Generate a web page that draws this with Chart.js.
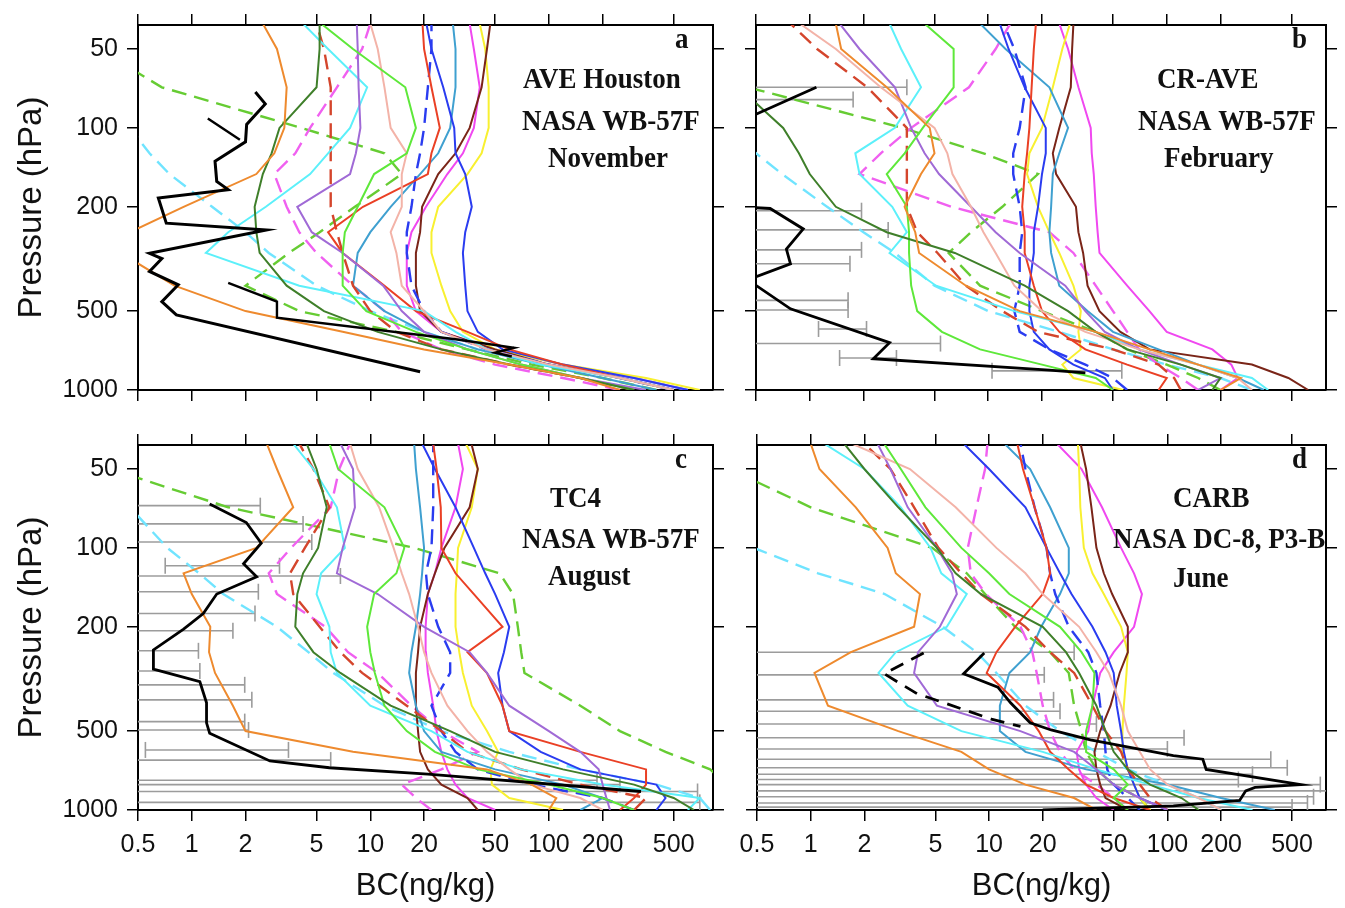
<!DOCTYPE html>
<html>
<head>
<meta charset="utf-8">
<script src="https://cdn.jsdelivr.net/npm/chart.js@4.4.1/dist/chart.umd.min.js"></script>
<style>
  html, body { margin: 0; padding: 0; background: #fff; }
  #fig { position: relative; width: 1345px; height: 908px; overflow: hidden; background: #fff; }
  #fig canvas { position: absolute; }
</style>
</head>
<body>
<div id="fig">
  <canvas id="pa" width="735" height="418" style="left:0;top:0"></canvas>
  <canvas id="pb" width="610" height="418" style="left:735px;top:0"></canvas>
  <canvas id="pc" width="735" height="490" style="left:0;top:418px"></canvas>
  <canvas id="pd" width="610" height="490" style="left:735px;top:418px"></canvas>
</div>
<script>
'use strict';

// pressure levels (hPa) shared by every model profile
const LEVELS  = [1000, 900, 800, 700, 600, 500, 400, 300, 250, 200, 150, 125, 100, 70, 50, 40];
const X_TICKS = [0.5, 1, 2, 5, 10, 20, 50, 100, 200, 500];
const Y_TICKS = [50, 100, 200, 500, 1000];

// model order: orange, dk green, lt green, pink, purple, cyan, red, red--, blue, blue--,
//              steel blue, brown, yellow, magenta, magenta--, green--, cyan--
const MODEL_COLORS = ['#ee8a2e', '#3f7f2a', '#5ee83a', '#f3b3a8', '#a06ad6', '#5cf0fa', '#ea4025', '#d4452c',
                      '#2a3cf0', '#2a3cf0', '#3fa0d0', '#7a2518', '#f8f030', '#f048f0', '#f060f0', '#66cc33', '#70e4ff'];
const MODEL_DASHED = [false, false, false, false, false, false, false, true,
                      false, true, false, false, false, false, true, true, true];

// BC (ng/kg) at LEVELS, one row per model
const BC_A = [
  [250, 150, 60, 20, 7, 2.0, 0.8, 0.4, 0.45, 0.9, 2.3, 2.9, 3.3, 3.4, 3.0, 2.5],
  [300, 150, 60, 25, 11, 5.5, 3.4, 2.4, 2.3, 2.25, 2.5, 2.8, 3.1, 5.0, 5.2, 5.2],
  [300, 150, 70, 35, 18, 9.5, 7, 7, 7.2, 8.5, 10.5, 16, 18, 15.7, 8, 5.3],
  [500, 250, 100, 45, 25, 20, 15, 14, 13, 15, 15, 16, 13, 12, 11, 10],
  [350, 150, 70, 35, 20, 15, 11.8, 7, 4.7, 3.9, 7.7, 8.3, 8.8, 8.6, 8.5, 8.4],
  [500, 250, 90, 45, 30, 20, 4, 1.2, 1.6, 2.6, 4.6, 5.8, 7.7, 9.6, 5.8, 4.2],
  [500, 250, 120, 60, 35, 18, 12, 7, 5.8, 9.1, 21, 22, 24.5, 22, 20, 19.6],
  [300, 150, 60, 25, 14, 10, 8, 7, 6.5, 6, 6, 6, 6, 6, 5.5, 5],
  [600, 300, 120, 55, 40, 35, 34, 33, 34, 37, 34, 30, 29.5, 25.6, 22, 20.6],
  [500, 250, 100, 45, 25, 20, 17, 16, 16, 17, 18, 19, 20, 21, 22, 22],
  [400, 200, 90, 40, 20, 12, 8, 8.5, 10, 13, 19, 24, 28, 30, 30, 29],
  [500, 250, 100, 50, 25, 19, 18, 18, 19, 19.5, 24, 30, 36, 42, 45, 47],
  [700, 350, 120, 50, 33, 28, 25, 22, 22, 24, 35, 42, 46, 46, 44, 41],
  [600, 300, 120, 50, 25, 18, 16, 16, 17, 20.5, 27, 33, 38, 41, 38, 36],
  [250, 120, 50, 25, 15, 12, 8, 5, 4, 3.4, 2.9, 3.8, 4.6, 6.5, 9, 10],
  [400, 200, 80, 35, 14, 4, 2, 3.5, 5.2, 8.2, 15, 12, 4.1, 0.68, 0.3, 0.25],
  [600, 300, 100, 40, 20, 10, 5, 2.7, 2.0, 1.3, 0.75, 0.58, 0.45, 0.3, 0.2, 0.15],
];
const BC_B = [
  [200, 260, 150, 80, 40, 15, 7.5, 4.1, 3.9, 3.4, 4.2, 5, 4.7, 2.7, 1.5, 1.4],
  [180, 200, 120, 60, 40, 28, 16, 6.5, 2.7, 1.4, 1.0, 0.87, 0.71, 0.4, 0.3, 0.25],
  [50, 40, 20, 9, 5.5, 4, 3.7, 3.6, 3.6, 3.5, 2.7, 3.4, 4.3, 6.4, 6.4, 4.4],
  [300, 250, 150, 70, 35, 20, 14, 11, 9.4, 8, 6.3, 5.9, 5, 2.5, 1.4, 0.88],
  [150, 200, 120, 70, 45, 35, 27, 15, 11, 8, 5.3, 4.4, 3.7, 3.0, 1.9, 1.47],
  [370, 300, 150, 70, 40, 14, 5.1, 2.8, 3.5, 2.9, 1.9, 1.8, 3.0, 4.2, 3.25, 2.8],
  [90, 100, 60, 35, 25, 20, 18, 16, 16, 15.5, 16, 16.5, 17, 17.5, 18, 18.5],
  [120, 110, 90, 50, 19, 12, 7.5, 5.2, 4, 3.5, 3.5, 3.5, 3.5, 2.1, 1.1, 0.78],
  [50, 45, 30, 22, 18, 17, 17, 18, 18, 19, 20, 21, 21, 16, 13, 11.6],
  [60, 50, 35, 22, 15, 14, 15, 15, 15.5, 15, 13.8, 13.8, 15, 16.2, 14, 12.2],
  [350, 250, 150, 90, 50, 36, 25, 22.5, 22, 22.5, 23, 25, 28, 22, 12.5, 9],
  [620, 480, 300, 80, 55, 42, 36, 34, 32, 31, 24, 23, 25, 29, 29.5, 30],
  [57, 30, 26, 33, 32, 33, 30, 25, 22, 19, 16.5, 17, 20, 23, 26, 28.7],
  [200, 250, 230, 180, 100, 80, 60, 42, 41, 40, 39, 38, 37.5, 32, 28, 25],
  [150, 120, 90, 70, 60, 50, 40, 30, 22, 6.2, 1.9, 2.5, 3.7, 7.8, 11, 13.3],
  [200, 150, 100, 60, 40, 20, 9, 6, 8, 12, 19, 9.4, 3.3, 0.45, 0.3, 0.25],
  [300, 200, 100, 50, 25, 10, 5, 3, 2, 1.25, 0.7, 0.5, 0.38, 0.28, 0.2, 0.18],
];
const BC_C = [
  [100, 110, 80, 45, 8, 2.0, 1.7, 1.35, 1.25, 1.27, 1.0, 0.9, 2.3, 3.7, 3.0, 2.63],
  [650, 500, 300, 120, 50, 28, 13, 6.8, 4.8, 3.8, 3.9, 4.2, 5.1, 5.7, 5.0, 4.4],
  [300, 200, 100, 40, 23, 16, 12, 10.6, 10, 9.6, 10.5, 14, 15.5, 12, 6.6, 5.9],
  [200, 150, 80, 60, 45, 35, 27, 22, 20, 18.5, 16.5, 15, 13.5, 11.2, 8.5, 7.7],
  [220, 210, 200, 190, 150, 100, 60, 45, 36, 20, 11, 6.5, 7, 8.2, 8.0, 6.8],
  [600, 700, 200, 70, 35, 22, 10, 6.5, 6, 5.9, 5.0, 5.3, 7.2, 6.5, 4.8, 3.7],
  [250, 300, 350, 350, 150, 60, 55, 45, 35, 55, 38, 30, 25, 24.8, 23.5, 22.5],
  [300, 350, 150, 70, 35, 25, 16, 9, 6.8, 5.2, 3.7, 3.55, 4.3, 5.9, 4.8, 4.0],
  [400, 450, 400, 150, 90, 60, 55, 52, 56, 60, 50, 44, 38, 30, 23, 19.5],
  [300, 200, 80, 40, 30, 25, 22, 28, 28, 24, 21, 20.5, 22, 22.5, 22.5, 22.5],
  [150, 200, 120, 50, 25, 20, 18, 16.5, 17, 18, 19, 19.5, 20, 19, 18, 17.6],
  [40, 35, 25, 21, 19, 18.5, 18, 18, 18.5, 19, 21, 23, 26, 36, 40, 36.8],
  [120, 60, 48, 47, 52, 45, 37, 33, 31.5, 30, 30, 30.5, 31, 37, 40, 34.3],
  [50, 35, 30, 27, 25, 23.5, 22.5, 21, 20.5, 20.4, 21, 23, 25, 30, 33, 31],
  [22, 18, 15, 25, 40, 25, 17, 11, 7.5, 5.6, 3, 2.7, 3.6, 6.0, 6.7, 7.7],
  [1200, 1100, 1000, 800, 450, 250, 150, 73, 70, 67, 63, 53, 17.6, 1.6, 0.35, 0.3],
  [800, 700, 400, 150, 60, 25, 12, 6.2, 4.5, 3.0, 1.5, 1.1, 0.73, 0.45, 0.3, 0.25],
];
const BC_D = [
  [40, 30, 16, 10, 7, 3.1, 1.25, 1.05, 1.68, 3.8, 4.1, 3.0, 2.7, 1.79, 1.12, 1.0],
  [150, 120, 80, 60, 50, 45, 40, 32, 27, 20, 9, 6.5, 5.1, 3.1, 2.0, 1.54],
  [60, 50, 60, 50, 35, 35, 38, 39, 33, 25, 13, 10, 7, 4.4, 3.2, 2.58],
  [200, 150, 100, 80, 70, 60, 55, 47, 40, 32, 20, 16, 11, 6.5, 3.6, 1.7],
  [100, 70, 50, 40, 30, 15, 5.1, 3.8, 4.0, 5.3, 6.6, 6.2, 5.1, 3.5, 2.8, 2.37],
  [300, 150, 80, 40, 20, 7, 3.5, 2.4, 3.0, 5.8, 7.5, 5.4, 4.7, 3.2, 2.0, 1.19],
  [80, 50, 35, 28, 22, 19, 15, 9.7, 11, 14, 20, 22, 21, 18, 15.5, 14.4],
  [100, 80, 70, 60, 55, 45, 38, 30, 22, 16, 9, 7, 5.2, 3.8, 2.8, 2.0],
  [100, 70, 65, 60, 57, 55, 52, 50, 45, 38, 29, 25, 21, 16, 10, 7.2],
  [70, 60, 50, 46, 45, 44, 42, 40, 36, 28, 23.5, 22, 21, 18, 16, 15],
  [400, 200, 100, 35, 16, 11.5, 11.5, 13, 17, 19.6, 25, 28, 28, 22, 17, 12.2],
  [60, 45, 42, 40, 39, 42, 48, 54, 60, 60, 49, 44, 40, 37.5, 35, 32.6],
  [80, 70, 65, 60, 56, 56, 57, 59, 60, 55, 44, 38, 34, 32.5, 32, 31.5],
  [50, 40, 35, 32, 31, 36, 38, 42, 50, 65, 72, 65, 55, 43, 33, 24],
  [60, 50, 40, 30, 25, 22, 20, 18.5, 17.5, 15, 9.6, 7.9, 7.6, 8.5, 9.5, 9.8],
  [80, 70, 50, 40, 35, 33, 30, 28, 22, 14, 9.5, 7.5, 4.8, 1.0, 0.35, 0.3],
  [200, 150, 100, 60, 40, 25, 16, 11, 8.5, 5.5, 2.6, 1.1, 0.48, 0.3, 0.2, 0.18],
];

// aircraft observations (null splits a profile into pieces)
const OBS_P_A   = [73, 81, 97, 113, 134, 160, 172, 185, 231, 245, 301, 315, 353, 397, 460, 517, 852];
const OBS_BC_A  = [2.27, 2.58, 2.03, 2.0, 1.35, 1.38, 1.6, 0.65, 0.72, 2.62, 0.58, 0.68, 0.58, 0.84, 0.68, 0.82, 19];
const OBS2_P_A  = [92, 111, null, 390, 460, 530, 640, 690, 720, 745];
const OBS2_BC_A = [1.23, 1.86, null, 1.6, 3.0, 3.0, 30, 64, 50, 62];
const OBS_P_B   = [70, 95, null, 200, 203, 243, 290, 330, 380, 490, 660, 760, 840, 860];
const OBS_BC_B  = [1.09, 0.4, null, 0.4, 0.6, 0.92, 0.74, 0.78, 0.45, 0.78, 2.8, 2.27, 22, 35];
const OBS_P_C   = [68, 80, 96, 115, 129, 150, 178, 204, 245, 290, 324, 390, 465, 510, 650, 690, 730, 850];
const OBS_BC_C  = [1.26, 2.02, 2.45, 1.95, 2.31, 1.38, 1.16, 0.9, 0.61, 0.61, 1.11, 1.21, 1.21, 1.26, 2.74, 5.9, 21, 328];
const OBS_P_D   = [252, 302, 340, 390, 465, 495, 540, 620, 640, 700, 800, 820, 845, 920, 965, 1000];
const OBS_BC_D  = [9.4, 7.2, 11.2, 13.2, 17, 22.3, 37, 108, 158, 165, 560, 310, 275, 254, 108, 20];
const OBS2_P_D  = [252, 302, 360, 390, 450, 480];
const OBS2_BC_D = [4.3, 2.58, 3.95, 5.6, 10.3, 15];

// observation spread: pressure, low end, high end
const ERR_P_B  = [70, 78, 207, 245, 292, 330, 455, 495, 585, 665, 755, 845];
const ERR_LO_B = [0.1, 0.1, 0.1, 0.1, 0.1, 0.1, 0.1, 0.1, 1.12, 0.1, 1.47, 10.5];
const ERR_HI_B = [3.5, 1.75, 1.95, 2.75, 1.95, 1.68, 1.64, 1.64, 2.08, 5.4, 3.06, 56];
const ERR_P_C  = [69, 81, 95, 117, 128, 147, 178, 207, 247, 295, 333, 380, 460, 495, 590, 645, 770, 800, 850, 935];
const ERR_LO_C = [0.1, 0.1, 0.1, 0.71, 0.1, 0.1, 0.1, 0.1, 0.1, 0.1, 0.1, 0.1, 0.1, 0.1, 0.55, 0.1, 0.1, 0.1, 0.1, 0.1];
const ERR_HI_C = [2.42, 4.2, 4.7, 3.1, 6.8, 2.36, 2.26, 1.7, 1.09, 1.11, 1.98, 2.17, 1.98, 2.08, 3.48, 6.0, 186, 250, 680, 700];
const ERR_P_D  = [250, 305, 380, 420, 470, 530, 585, 640, 690, 730, 765, 800, 845, 890, 940, 975];
const ERR_LO_D = [0.1, 0.1, 0.1, 0.1, 0.1, 0.1, 0.1, 0.1, 0.1, 0.1, 0.1, 0.1, 0.1, 0.1, 0.1, 0.1];
const ERR_HI_D = [30, 20.4, 23, 25, 40, 124, 100, 380, 470, 300, 250, 720, 800, 660, 610, 500];

const SANS  = '"Liberation Sans", Arial, Helvetica, sans-serif';
const SERIF = '"Liberation Serif", "Times New Roman", serif';
const INK = '#111';

function profile(bc, p) {
  return bc.map((v, i) => (v == null ? { x: null, y: null } : { x: v, y: p[i] }));
}

function buildDatasets(rows, obs, err) {
  const sets = [];
  obs.forEach(o => sets.push({
    data: profile(o.bc, o.p), showLine: true, pointRadius: 0,
    borderColor: '#000', borderWidth: o.w, borderDash: o.dash || [],
  }));
  rows.forEach((row, i) => sets.push({
    data: profile(row, LEVELS), showLine: true, pointRadius: 0,
    borderColor: MODEL_COLORS[i],
    borderWidth: MODEL_DASHED[i] ? 2.4 : 2,
    borderDash: MODEL_DASHED[i] ? [15, 8] : [],
  }));
  if (err) {
    err.p.forEach((p, i) => sets.push({
      data: [{ x: err.lo[i], y: p }, { x: err.hi[i], y: p }], showLine: true,
      borderColor: '#9c9c9c', borderWidth: 1.6,
      pointStyle: 'line', pointRotation: 90, pointRadius: 8,
      pointBorderColor: '#9c9c9c', pointBorderWidth: 1.6,
    }));
  }
  return sets;
}

// fixed axis thickness so the four frames line up
function fixSize(size) {
  return s => {
    if (s.isHorizontal()) s.height = size; else s.width = size;
    s.paddingLeft = s.paddingRight = s.paddingTop = s.paddingBottom = 0;
  };
}

function logAxis(position, ticks, size, showLabels, extra) {
  return Object.assign({
    type: 'logarithmic',
    position,
    afterBuildTicks: s => { s.ticks = ticks.map(v => ({ value: v })); },
    afterFit: fixSize(size),
    ticks: {
      display: showLabels, autoSkip: false, maxRotation: 0, padding: 9,
      color: INK, font: { family: SANS, size: 25 },
      callback: v => String(v),
    },
    grid: { drawOnChartArea: false, drawTicks: true, tickLength: 11, color: '#000', lineWidth: 1.5 },
    border: { display: true, color: '#000', width: 2 },
  }, extra);
}

const panelNotes = {
  id: 'panelNotes',
  afterDraw(chart, args, opts) {
    const ctx = chart.ctx;
    ctx.save();
    ctx.fillStyle = INK;
    ctx.font = 'bold 27px ' + SERIF;
    ctx.textAlign = 'left';
    ctx.textBaseline = 'alphabetic';
    opts.lines.forEach(([text, x, y]) => {
      ctx.save();
      ctx.translate(x - opts.ox, y - opts.oy);
      ctx.scale(1, 1.12);
      ctx.fillText(text, 0, 0);
      ctx.restore();
    });
    ctx.restore();
  },
};

const PANELS = [
  {
    id: 'pa', ox: 0, oy: 0, xMax: 830, box: [138, 25, 22, 28], xLabels: false, yLabels: true,
    rows: BC_A,
    obs: [{ p: OBS_P_A, bc: OBS_BC_A, w: 3 }, { p: OBS2_P_A, bc: OBS2_BC_A, w: 2.4 }],
    err: null,
    notes: [['a', 675, 48], ['AVE Houston', 523, 88], ['NASA WB-57F', 522, 130], ['November', 548, 167]],
  },
  {
    id: 'pb', ox: 735, oy: 0, xMax: 780, box: [21, 25, 19, 28], xLabels: false, yLabels: false,
    rows: BC_B,
    obs: [{ p: OBS_P_B, bc: OBS_BC_B, w: 2.8 }],
    err: { p: ERR_P_B, lo: ERR_LO_B, hi: ERR_HI_B },
    notes: [['b', 1292, 48], ['CR-AVE', 1157, 88], ['NASA WB-57F', 1138, 130], ['February', 1164, 167]],
  },
  {
    id: 'pc', ox: 0, oy: 418, xMax: 830, box: [138, 27, 22, 98], xLabels: true, yLabels: true,
    rows: BC_C,
    obs: [{ p: OBS_P_C, bc: OBS_BC_C, w: 2.8 }],
    err: { p: ERR_P_C, lo: ERR_LO_C, hi: ERR_HI_C },
    notes: [['c', 675, 468], ['TC4', 550, 507], ['NASA WB-57F', 522, 548], ['August', 548, 585]],
  },
  {
    id: 'pd', ox: 735, oy: 418, xMax: 775, box: [22, 27, 19, 98], xLabels: true, yLabels: false,
    rows: BC_D,
    obs: [{ p: OBS_P_D, bc: OBS_BC_D, w: 2.8 }, { p: OBS2_P_D, bc: OBS2_BC_D, w: 2.8, dash: [14, 9] }],
    err: { p: ERR_P_D, lo: ERR_LO_D, hi: ERR_HI_D },
    notes: [['d', 1292, 468], ['CARB', 1173, 507], ['NASA DC-8, P3-B', 1113, 548], ['June', 1173, 587]],
  },
];

function drawPanel(p) {
  const [wl, wt, wr, wb] = p.box;
  const xRange = { min: 0.5, max: p.xMax };
  const yRange = { min: 40.5, max: 1000, reverse: true };
  const xTitle = p.xLabels
    ? { display: true, text: 'BC(ng/kg)', color: INK, font: { family: SANS, size: 31 }, padding: { top: 0, bottom: 3 } }
    : { display: false };
  const yTitle = p.yLabels
    ? { display: true, text: 'Pressure (hPa)', color: INK, font: { family: SANS, size: 33 }, padding: { top: 12, bottom: 0 } }
    : { display: false };

  new Chart(document.getElementById(p.id), {
    type: 'scatter',
    data: { datasets: buildDatasets(p.rows, p.obs, p.err) },
    options: {
      responsive: false,
      animation: false,
      devicePixelRatio: 1,
      events: [],
      layout: { padding: 0 },
      scales: {
        x:  logAxis('bottom', X_TICKS, wb, p.xLabels, Object.assign({ title: xTitle }, xRange)),
        x2: logAxis('top',    X_TICKS, wt, false, xRange),
        y:  logAxis('left',   Y_TICKS, wl, p.yLabels, Object.assign({ title: yTitle }, yRange)),
        y2: logAxis('right',  Y_TICKS, wr, false, yRange),
      },
      plugins: {
        legend: { display: false },
        tooltip: { enabled: false },
        panelNotes: { lines: p.notes, ox: p.ox, oy: p.oy },
      },
    },
    plugins: [panelNotes],
  });
}

PANELS.forEach(drawPanel);
</script>
</body>
</html>
